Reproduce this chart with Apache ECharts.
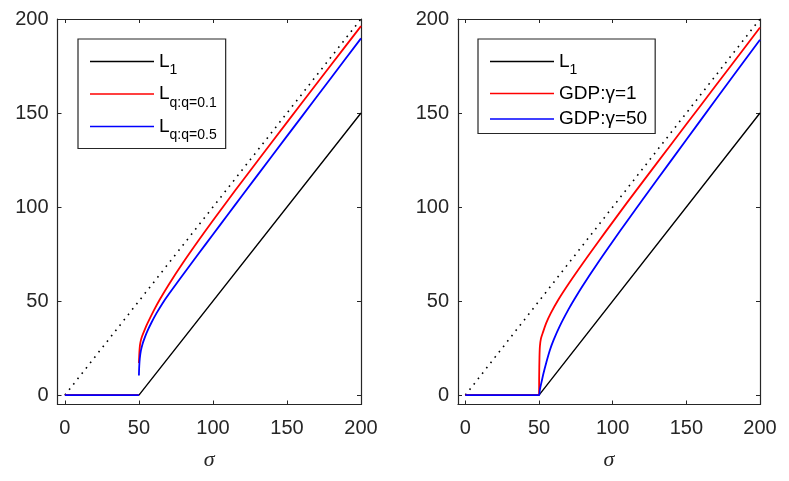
<!DOCTYPE html>
<html>
<head>
<meta charset="utf-8">
<script src="https://cdn.jsdelivr.net/npm/echarts@6/dist/echarts.min.js"></script>
<style>
html, body { margin: 0; padding: 0; background: #fff; }
#chart { width: 789px; height: 481px; }
</style>
</head>
<body>
<div id="chart"></div>
<script>
// tick values shared by both panels
const sigmaTicks = [0, 50, 100, 150, 200];
const valueTicks = [0, 50, 100, 150, 200];

// dotted identity line
const diagX = [0, 200];
const diagY = [0, 200];

// L1 soft threshold (both panels)
const l1X = [0, 50, 200];
const l1Y = [0, 0, 150];

// left panel: Lq, q = 0.1 and q = 0.5 (null = break in the line)
const lq01X = [0, 50, 50, 50, 50.2, 50.5, 51, 52, 54, 56, 60, 64, 70, 80, 90, 100, 110, 120, 140, 160, 180, 200];
const lq01Y = [0, 0, null, 17, 21, 25, 28, 31, 35, 38.5, 44.9, 50.7, 58.6, 70.6, 81.9, 92.8, 103.5, 114, 134.7, 155.3, 175.8, 196.2];
const lq05X = [0, 50, 50, 50, 50.2, 50.6, 51.3, 52.5, 54, 56, 58.5, 62, 66, 70, 80, 90, 100, 110, 120, 140, 160, 180, 200];
const lq05Y = [0, 0, null, 10.4, 15.2, 19.6, 23.5, 27.3, 30.7, 34.5, 38.6, 43.7, 48.9, 53.5, 64.3, 74.9, 85.4, 95.9, 106.4, 127.3, 148.1, 168.9, 189.7];

// right panel: GDP, gamma = 1 and gamma = 50
const gdp1X = [0, 50, 50.1, 50.3, 50.6, 51.3, 52.5, 55, 58, 63, 70, 80, 90, 100, 110, 120, 140, 160, 180, 200];
const gdp1Y = [0, 0, 10, 20, 26, 30, 33, 38.5, 43.6, 50.6, 59.1, 70.4, 81.3, 92, 102.6, 113, 133.7, 154.3, 174.9, 195.5];
const gdp50X = [0, 50, 50.5, 51, 52, 53, 55, 57.4, 60, 64, 70, 74, 80, 90, 100, 110, 120, 140, 160, 180, 200];
const gdp50Y = [0, 0, 2.5, 4.5, 8, 11.5, 17.5, 24, 29.5, 36.6, 45.6, 51, 58.6, 70.4, 81.7, 92.7, 103.6, 125.1, 146.5, 167.8, 189];

const legendSubs = { 'L1': '1', 'Lq01': 'q:q=0.1', 'Lq05': 'q:q=0.5' };

const axisColor = '#262626';
const font = 'Liberation Sans';

function zip(xs, ys) {
    return xs.map((x, i) => [x, ys[i] === null ? '-' : ys[i]]);
}

function xAxis(grid, pos) {
    return {
        type: 'value', gridIndex: grid, position: pos, min: -5, max: 200,
        splitLine: { show: false },
        axisLine: { show: true, onZero: false, lineStyle: { color: axisColor, width: 1.2 } },
        axisTick: { show: true, inside: true, length: 4, customValues: sigmaTicks, lineStyle: { color: axisColor, width: 1 } },
        axisLabel: { show: pos === 'bottom', customValues: sigmaTicks, fontSize: 20, color: axisColor, margin: 14, fontFamily: font },
        name: pos === 'bottom' ? 'σ' : '',
        nameLocation: 'middle', nameGap: 45,
        nameTextStyle: { fontSize: 22, fontStyle: 'italic', fontFamily: 'Liberation Serif', color: axisColor }
    };
}

function yAxis(grid, pos) {
    return {
        type: 'value', gridIndex: grid, position: pos, min: -5, max: 200,
        splitLine: { show: false },
        axisLine: { show: true, onZero: false, lineStyle: { color: axisColor, width: 1.2 } },
        axisTick: { show: true, inside: true, length: 4, customValues: valueTicks, lineStyle: { color: axisColor, width: 1 } },
        axisLabel: { show: pos === 'left', customValues: valueTicks, fontSize: 20, color: axisColor, margin: 9, fontFamily: font }
    };
}

function line(name, xs, ys, color, width, smooth, xi, yi) {
    return {
        name: name, type: 'line', xAxisIndex: xi, yAxisIndex: yi,
        data: zip(xs, ys), symbol: 'none', connectNulls: false, smooth: smooth,
        lineStyle: { color: color, width: width }, itemStyle: { color: color }
    };
}

function dotted(xi, yi) {
    return {
        type: 'line', xAxisIndex: xi, yAxisIndex: yi, data: zip(diagX, diagY), symbol: 'none',
        lineStyle: { color: '#000', width: 1.6, type: [1.6, 5.2] }, silent: true
    };
}

const richText = {
    m: { fontSize: 19, lineHeight: 32, verticalAlign: 'middle', fontFamily: font, color: '#000' },
    s: { fontSize: 14, lineHeight: 10, verticalAlign: 'bottom', fontFamily: font, color: '#000' },
    p: { fontSize: 19, lineHeight: 22, fontFamily: font, color: '#000' }
};

function legend(left, names, gap, padding) {
    return {
        orient: 'vertical', left: left, top: 39, data: names,
        selectedMode: false, icon: 'rect', itemWidth: 64, itemHeight: 1.5, itemGap: gap,
        padding: padding, borderColor: axisColor, borderWidth: 1.2, backgroundColor: '#fff',
        formatter: function (name) {
            if (legendSubs[name]) return '{m|L}{s|' + legendSubs[name] + '}';
            return '{p|' + name + '}';
        },
        textStyle: { fontFamily: font, fontSize: 19, color: '#000', rich: richText }
    };
}

const chart = echarts.init(document.getElementById('chart'));
chart.setOption({
    animation: false,
    backgroundColor: '#fff',
    grid: [
        { left: 57.5, top: 19, width: 303.5, height: 385.5 },
        { left: 458, top: 19, width: 302, height: 385.5 }
    ],
    xAxis: [xAxis(0, 'bottom'), xAxis(0, 'top'), xAxis(1, 'bottom'), xAxis(1, 'top')],
    yAxis: [yAxis(0, 'left'), yAxis(0, 'right'), yAxis(1, 'left'), yAxis(1, 'right')],
    legend: [
        legend(78, ['L1', 'Lq01', 'Lq05'], 7, [13, 9, 6, 12]),
        legend(478, ['L1', 'GDP:γ=1', 'GDP:γ=50'], 6.5, [13, 8, 5, 12])
    ],
    series: [
        dotted(0, 0),
        line('L1', l1X, l1Y, '#000000', 1.4, false, 0, 0),
        line('Lq01', lq01X, lq01Y, '#ff0000', 1.8, 0.3, 0, 0),
        line('Lq05', lq05X, lq05Y, '#0000ff', 1.8, 0.3, 0, 0),
        dotted(2, 2),
        line('L1', l1X, l1Y, '#000000', 1.4, false, 2, 2),
        line('GDP:γ=1', gdp1X, gdp1Y, '#ff0000', 1.8, 0.3, 2, 2),
        line('GDP:γ=50', gdp50X, gdp50Y, '#0000ff', 1.8, 0.3, 2, 2)
    ]
});
</script>
</body>
</html>
